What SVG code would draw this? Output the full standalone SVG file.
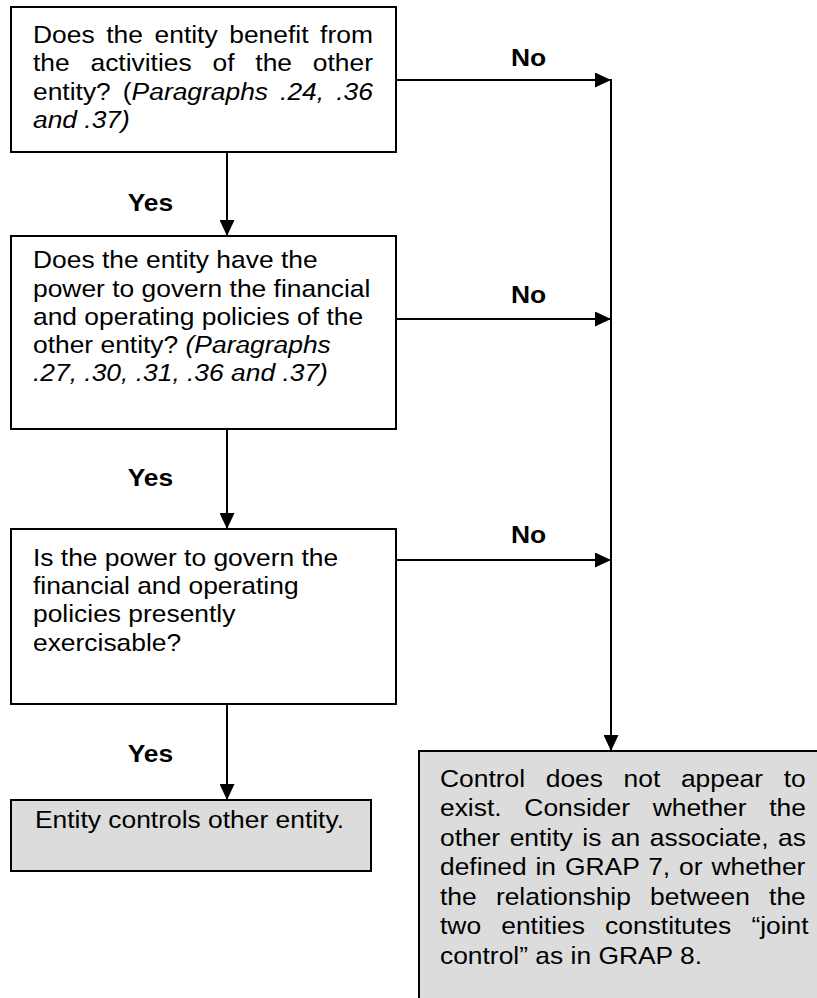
<svg xmlns="http://www.w3.org/2000/svg" width="817" height="998" viewBox="0 0 817 998">
<defs>
<style>
.box{fill:#ffffff;stroke:#000;stroke-width:2}
.term{fill:#dcdcdc;stroke:#000;stroke-width:2}
.t{font-family:"Liberation Sans",Arial,sans-serif;font-size:24px;fill:#000}
.i{font-style:italic}
.lbl{font-family:"Liberation Sans",Arial,sans-serif;font-size:24px;font-weight:bold;fill:#000;text-anchor:middle}
.c{fill:none;stroke:#000;stroke-width:2}
</style>
<marker id="ah" viewBox="0 0 16 15" refX="16" refY="7.5" markerWidth="16" markerHeight="15" orient="auto" markerUnits="userSpaceOnUse">
<path d="M0,0 L16,7.5 L0,15 z" fill="#000"/>
</marker>
</defs>
<rect width="817" height="998" fill="#fff"/>
<g id="connectors">
<line class="c" x1="227" y1="152" x2="227" y2="236" marker-end="url(#ah)"/>
<line class="c" x1="227" y1="429" x2="227" y2="529" marker-end="url(#ah)"/>
<line class="c" x1="227" y1="704" x2="227" y2="800" marker-end="url(#ah)"/>
<line class="c" x1="396" y1="80" x2="611" y2="80" marker-end="url(#ah)"/>
<line class="c" x1="396" y1="319" x2="611" y2="319" marker-end="url(#ah)"/>
<line class="c" x1="396" y1="560" x2="611" y2="560" marker-end="url(#ah)"/>
<line class="c" x1="611" y1="79" x2="611" y2="751" marker-end="url(#ah)"/>
<g transform="scale(1.1,1)">
<text class="lbl" x="136.8" y="210.7">Yes</text>
<text class="lbl" x="136.8" y="485.7">Yes</text>
<text class="lbl" x="136.8" y="761.7">Yes</text>
<text class="lbl" x="480.5" y="66">No</text>
<text class="lbl" x="480.5" y="303.3">No</text>
<text class="lbl" x="480.5" y="542.7">No</text>
</g>
</g>
<g id="q1">
<rect class="box" x="11" y="7" width="385" height="145"/>
<g transform="scale(1.1,1)">
<text class="t" x="30" y="43" word-spacing="3.9">Does the entity benefit from</text>
<text class="t" x="30" y="71.3" word-spacing="12.25">the activities of the other</text>
<text class="t" x="30" y="99.6" word-spacing="4.3">entity? (<tspan class="i">Paragraphs .24, .36</tspan></text>
<text class="t i" x="30" y="128">and .37)</text>
</g>
</g>
<g id="q2">
<rect class="box" x="11" y="236" width="385" height="193"/>
<g transform="scale(1.1,1)">
<text class="t" x="30" y="268.3">Does the entity have the</text>
<text class="t" x="30" y="296.6">power to govern the financial</text>
<text class="t" x="30" y="324.9">and operating policies of the</text>
<text class="t" x="30" y="353.2">other entity? <tspan class="i">(Paragraphs</tspan></text>
<text class="t i" x="30" y="381.5">.27, .30, .31, .36 and .37)</text>
</g>
</g>
<g id="q3">
<rect class="box" x="11" y="529" width="385" height="175"/>
<g transform="scale(1.1,1)">
<text class="t" x="30" y="565.7">Is the power to govern the</text>
<text class="t" x="30" y="594">financial and operating</text>
<text class="t" x="30" y="622.3">policies presently</text>
<text class="t" x="30" y="650.6">exercisable?</text>
</g>
</g>
<g id="yes-result">
<rect class="term" x="11" y="800" width="360" height="71"/>
<g transform="scale(1.1,1)">
<text class="t" x="31.8" y="828.3">Entity controls other entity.</text>
</g>
</g>
<g id="no-result">
<rect class="term" x="419" y="751" width="402" height="252"/>
<g transform="scale(1.1,1)">
<text class="t" x="400" y="787" word-spacing="12.1">Control does not appear to</text>
<text class="t" x="400" y="816.5" word-spacing="14">exist. Consider whether the</text>
<text class="t" x="400" y="846" word-spacing="2">other entity is an associate, as</text>
<text class="t" x="400" y="875.5" word-spacing="1.44">defined in GRAP 7, or whether</text>
<text class="t" x="400" y="905" word-spacing="10.8">the relationship between the</text>
<text class="t" x="400" y="934.5" word-spacing="11.7">two entities constitutes “joint</text>
<text class="t" x="400" y="964">control” as in GRAP 8.</text>
</g>
</g>
</svg>
